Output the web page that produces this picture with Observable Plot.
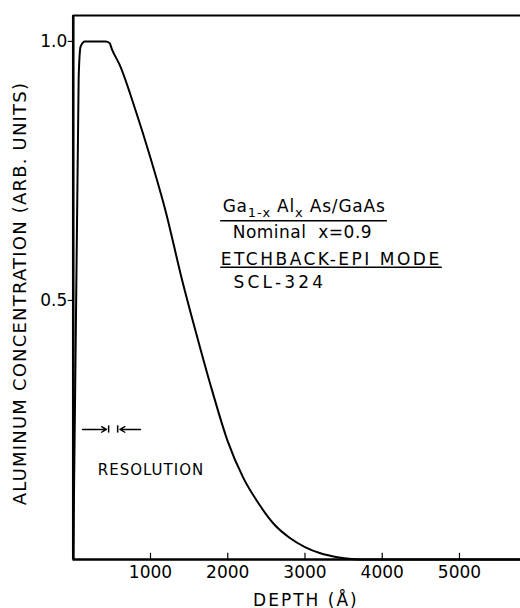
<!DOCTYPE html>
<html>
<head>
<meta charset="utf-8">
<script src="https://cdn.jsdelivr.net/npm/d3@7"></script>
<script src="https://cdn.jsdelivr.net/npm/@observablehq/plot@0.6"></script>
<style>
  html, body { margin: 0; padding: 0; background: #fff; }
  svg { display: block; }
</style>
</head>
<body>
<div id="chart"></div>
<script>
// ---- data (depth in Å, aluminum concentration in arbitrary units) ----
const depth = [0, 70, 95, 150, 300, 420, 470, 500, 600, 800, 1000, 1200, 1400, 1600, 1800, 2000, 2200, 2400, 2600, 2800, 3000, 3200, 3400, 3600, 3800, 5790];
const conc  = [0, 0.93, 0.99, 1.0, 1.0, 1.0, 0.997, 0.985, 0.955, 0.870, 0.775, 0.670, 0.545, 0.432, 0.325, 0.228, 0.158, 0.108, 0.068, 0.042, 0.024, 0.012, 0.005, 0.001, 0.0, 0.0];

const xTicks = [1000, 2000, 3000, 4000, 5000];
const yTicks = [0.5, 1.0];
const xDomain = [0, 5790];
const yDomain = [0, 1.05];

const xLabel = "DEPTH (Å)";
const yLabel = "ALUMINUM CONCENTRATION (ARB. UNITS)";

// annotation block
const noteText = ["Ga1-x Alx As/GaAs", "Nominal  x=0.9", "ETCHBACK-EPI MODE", "SCL-324"];
const noteX    = [1934, 2064, 1909, 2074];
const noteY    = [0.670, 0.620, 0.569, 0.525];
const noteSpacing = [0.8, 0.5, 2.5, 3.2];
const ruleYv   = [0.654, 0.564];
const ruleX1   = [1909, 1909];
const ruleX2   = [4067, 4778];

// resolution marker
const resBars  = [458, 575];
const resY     = 0.251;
const resArrowFrom = [120, 870];
const resArrowTo   = [430, 605];
const resLabel = "RESOLUTION";
const resLabelX = 1006;
const resLabelY = 0.172;

const curve = depth.map((d, i) => ({depth: d, conc: conc[i]}));
const notes = noteText.map((t, i) => ({t, x: noteX[i], y: noteY[i]}));
const rules = ruleYv.map((y, i) => ({y, x1: ruleX1[i], x2: ruleX2[i]}));
const arrows = resArrowFrom.map((x1, i) => ({x1, x2: resArrowTo[i]}));

const font = "DejaVu Sans, sans-serif";

const fig = Plot.plot({
  width: 520,
  height: 608,
  marginLeft: 72.75,
  marginRight: 0,
  marginTop: 15,
  marginBottom: 49,
  style: {fontFamily: font, background: "#fff", color: "#000", overflow: "visible"},
  x: {domain: xDomain},
  y: {domain: yDomain},
  marks: [
    // frame: left, bottom, top
    Plot.ruleX([0], {stroke: "#000", strokeWidth: 2.6}),
    Plot.ruleY([0], {stroke: "#000", strokeWidth: 2.6}),
    Plot.ruleY([yDomain[1]], {stroke: "#000", strokeWidth: 2.2}),
    // inside x ticks
    Plot.ruleX(xTicks, {y1: 0, y2: 0.012, stroke: "#000", strokeWidth: 1.2}),
    Plot.axisX({ticks: xTicks, tickSize: 0, tickPadding: 6, fontSize: 17, tickFormat: d => String(d), label: null}),
    Plot.axisY({ticks: yTicks, tickSize: 5, tickPadding: 1, fontSize: 17, tickFormat: d3.format(".1f"), label: null, strokeWidth: 1.2}),
    // the profile
    Plot.line(curve, {x: "depth", y: "conc", stroke: "#000", strokeWidth: 2, curve: "monotone-x"}),
    // annotation
    Plot.text(notes, {x: "x", y: "y", text: "t", textAnchor: "start", lineAnchor: "bottom", fontSize: 17, fill: "#000"}),
    Plot.ruleY(rules, {y: "y", x1: "x1", x2: "x2", stroke: "#000", strokeWidth: 1.5}),
    // resolution marker
    Plot.ruleX(resBars, {y1: resY - 0.007, y2: resY + 0.007, stroke: "#000", strokeWidth: 1.5}),
    Plot.arrow(arrows, {x1: "x1", x2: "x2", y1: resY, y2: resY, bend: 0, headLength: 6, stroke: "#000", strokeWidth: 1.4, insetStart: 0, insetEnd: 0}),
    Plot.text([resLabel], {x: resLabelX, y: resLabelY, text: d => d, fontSize: 15, fill: "#000"}),
    // axis titles
    Plot.text([xLabel], {frameAnchor: "bottom", text: d => d, dx: 9, dy: 46, lineAnchor: "bottom", fontSize: 17, fill: "#000"}),
    Plot.text([yLabel], {frameAnchor: "left", text: d => d, rotate: -90, textAnchor: "middle", dx: -53, dy: 6, fontSize: 18, fill: "#000"})
  ]
});

const sel = d3.select(fig);
const byText = s => sel.selectAll("text").filter(function () { return this.textContent === s; });

// letter spacing to mimic the wide technical lettering
noteText.forEach((s, i) => byText(s).attr("letter-spacing", noteSpacing[i]));
byText(resLabel).attr("letter-spacing", 1);
byText(xLabel).attr("letter-spacing", 2);
byText(yLabel).attr("letter-spacing", 1.2);

// subscripts in the composition formula
byText(noteText[0]).each(function () {
  const t = d3.select(this);
  t.text(null);
  t.append("tspan").text("Ga");
  t.append("tspan").attr("dy", 5).attr("font-size", 13).text("1-x");
  t.append("tspan").attr("dy", -5).text(" Al");
  t.append("tspan").attr("dy", 5).attr("font-size", 13).text("x");
  t.append("tspan").attr("dy", -5).text(" As/GaAs");
});

document.getElementById("chart").appendChild(fig);
</script>
</body>
</html>
